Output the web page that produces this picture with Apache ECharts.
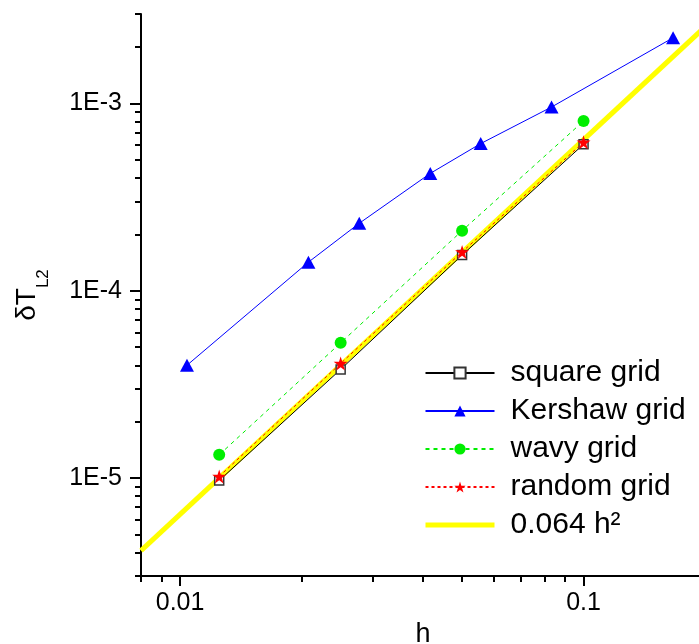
<!DOCTYPE html>
<html><head><meta charset="utf-8">
<script src="https://cdn.jsdelivr.net/npm/echarts@6/dist/echarts.min.js"></script>
<style>html,body{margin:0;padding:0;background:#fff}#c{width:699px;height:644px}</style>
</head><body><div id="c"></div>
<script>
// ---- data ----
const squareH = [0.0125, 0.025, 0.05, 0.1];
const squareErr = [9.7e-6, 3.8e-5, 1.55e-4, 6.05e-4];
const kershawH = [0.0104, 0.0208, 0.0278, 0.0417, 0.0556, 0.0833, 0.1667];
const kershawErr = [4.0e-5, 1.42e-4, 2.29e-4, 4.23e-4, 6.1e-4, 9.56e-4, 2.24e-3];
const wavyH = [0.0125, 0.025, 0.05, 0.1];
const wavyErr = [1.33e-5, 5.27e-5, 2.09e-4, 8.05e-4];
const randomH = [0.0125, 0.025, 0.05, 0.1];
const randomErr = [1.02e-5, 4.09e-5, 1.61e-4, 6.2e-4];
const refH = [0.008, 0.2];
const refErr = [4.096e-6, 2.56e-3];
const seriesNames = ['square grid', 'Kershaw grid', 'wavy grid', 'random grid', '0.064 h\u00B2'];
const xMajorTicks = [0.01, 0.1];
const xMinorTicks = [0.008, 0.009, 0.02, 0.03, 0.04, 0.05, 0.06, 0.07, 0.08, 0.09, 0.2];
const yMajorTicks = [1e-5, 1e-4, 1e-3];
const yMinorTicks = [3e-6, 4e-6, 5e-6, 6e-6, 7e-6, 8e-6, 9e-6,
  2e-5, 3e-5, 4e-5, 5e-5, 6e-5, 7e-5, 8e-5, 9e-5,
  2e-4, 3e-4, 4e-4, 5e-4, 6e-4, 7e-4, 8e-4, 9e-4, 2e-3, 3e-3];

const zip = (a, b) => a.map((v, i) => [v, b[i]]);
const FONT = '"Liberation Sans", Arial, sans-serif';
const STAR = 'path://M50,0 L61.2,34.5 L97.6,34.5 L68.2,55.9 L79.4,90.5 L50,69.1 L20.6,90.5 L31.8,55.9 L2.4,34.5 L38.8,34.5 Z';

const chart = echarts.init(document.getElementById('c'), null, {renderer: 'canvas'});
const xBase = {type: 'log', logBase: 10, min: 0.008, max: 0.2, gridIndex: 0, position: 'bottom', splitLine: {show: false}, minorTick: {show: false}};
const yBase = {type: 'log', logBase: 10, min: 3e-6, max: 3e-3, gridIndex: 0, position: 'left', splitLine: {show: false}, minorTick: {show: false}};

chart.setOption({
  animation: false,
  backgroundColor: '#fff',
  textStyle: {fontFamily: FONT, color: '#000'},
  grid: {left: 141, top: 14, width: 564, height: 562, containLabel: false, outerBoundsMode: 'none'},
  xAxis: [
    Object.assign({}, xBase, {
      name: 'h', nameLocation: 'middle', nameGap: 42,
      nameTextStyle: {fontSize: 27, color: '#000', fontFamily: FONT},
      axisLine: {show: true, lineStyle: {color: '#000', width: 2}},
      axisTick: {show: true, length: 10, lineStyle: {color: '#000', width: 2}, customValues: xMajorTicks},
      axisLabel: {show: true, fontSize: 25, color: '#000', fontFamily: FONT, margin: 15, customValues: xMajorTicks,
        formatter: v => String(Number(v.toPrecision(3)))}
    }),
    Object.assign({}, xBase, {
      axisLine: {show: false},
      axisTick: {show: true, length: 6, lineStyle: {color: '#000', width: 2}, customValues: xMinorTicks},
      axisLabel: {show: false}
    })
  ],
  yAxis: [
    Object.assign({}, yBase, {
      name: '{a|\u03B4T}{b|L2}', nameLocation: 'middle', nameGap: 89, nameRotate: 90,
      nameTextStyle: {color: '#000', fontFamily: FONT,
        rich: {
          a: {fontSize: 28, fontFamily: FONT, color: '#000', lineHeight: 50, verticalAlign: 'middle'},
          b: {fontSize: 17, fontFamily: FONT, color: '#000', lineHeight: 50, verticalAlign: 'bottom'}
        }},
      axisLine: {show: true, lineStyle: {color: '#000', width: 2}},
      axisTick: {show: true, length: 11, lineStyle: {color: '#000', width: 2}, customValues: yMajorTicks},
      axisLabel: {show: true, fontSize: 25, color: '#000', fontFamily: FONT, margin: 19, customValues: yMajorTicks,
        formatter: v => '1E' + Math.round(Math.log10(v))}
    }),
    Object.assign({}, yBase, {
      axisLine: {show: false},
      axisTick: {show: true, length: 6, lineStyle: {color: '#000', width: 2}, customValues: yMinorTicks},
      axisLabel: {show: false}
    })
  ],
  legend: {
    orient: 'vertical', left: 418, top: 353,
    itemWidth: 69, itemHeight: 14, itemGap: 8,
    data: seriesNames.map((n, i) => i === 4
      ? {name: n, itemStyle: {opacity: 0}, lineStyle: {width: 5, color: '#ffff00'}}
      : {name: n}),
    textStyle: {fontSize: 30, color: '#000', fontFamily: FONT, lineHeight: 30, padding: [0, 0, 0, 11]}
  },
  series: [
    {
      name: seriesNames[4], type: 'line', data: zip(refH, refErr), z: 1,
      symbol: 'none', lineStyle: {color: '#ffff00', width: 5}, itemStyle: {color: '#ffff00'}
    },
    {
      name: seriesNames[0], type: 'line', data: zip(squareH, squareErr), z: 3,
      symbol: 'rect', symbolSize: 9,
      lineStyle: {color: '#000', width: 1},
      itemStyle: {color: '#fff', borderColor: '#333', borderWidth: 1.5}
    },
    {
      name: seriesNames[1], type: 'line', data: zip(kershawH, kershawErr), z: 3,
      symbol: 'triangle', symbolSize: [14, 13],
      lineStyle: {color: '#0000ff', width: 1},
      itemStyle: {color: '#0000ff'}
    },
    {
      name: seriesNames[2], type: 'line', data: zip(wavyH, wavyErr), z: 3,
      symbol: 'circle', symbolSize: 12,
      lineStyle: {color: '#00ee00', width: 1, type: [4, 4]},
      itemStyle: {color: '#00ee00'}
    },
    {
      name: seriesNames[3], type: 'line', data: zip(randomH, randomErr), z: 4,
      symbol: STAR, symbolSize: 14,
      lineStyle: {color: '#ff0000', width: 1, type: [3, 3]},
      itemStyle: {color: '#ff0000'}
    }
  ]
});
</script>
</body></html>
